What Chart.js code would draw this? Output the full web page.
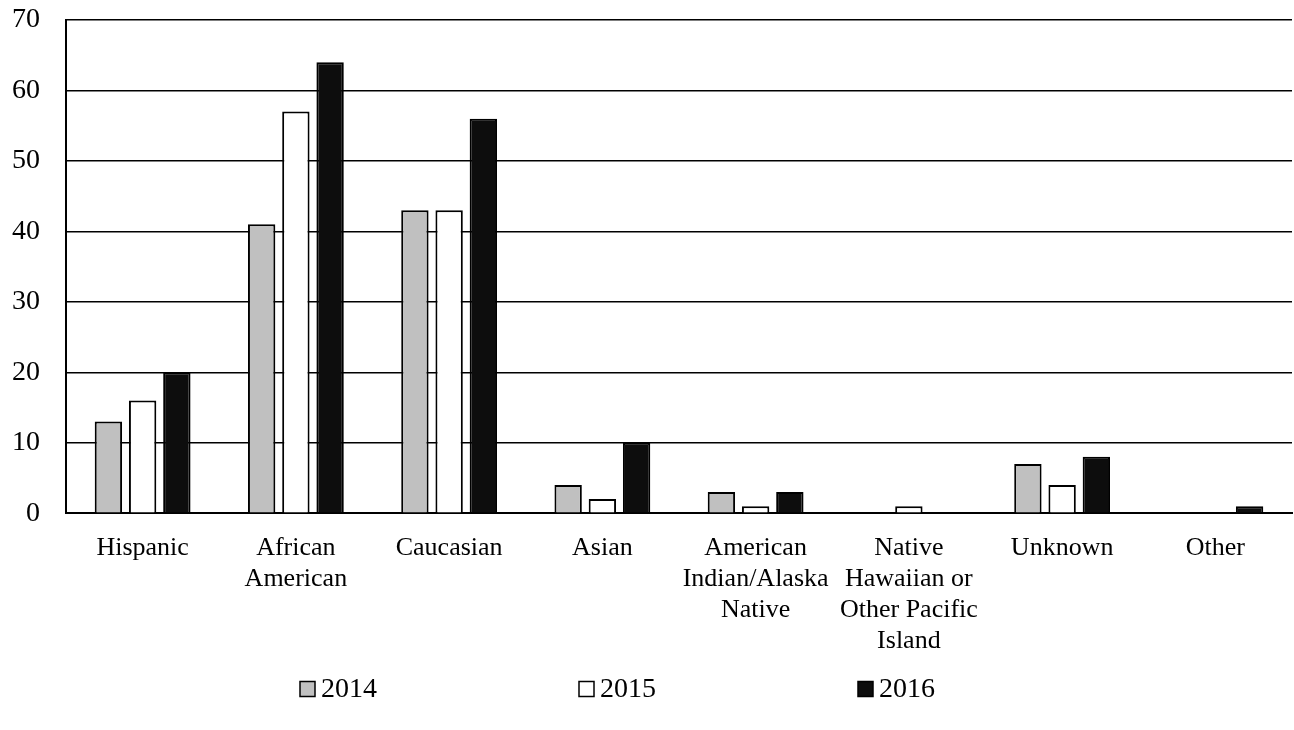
<!DOCTYPE html>
<html>
<head>
<meta charset="utf-8">
<script src="https://cdn.jsdelivr.net/npm/chart.js@4/dist/chart.umd.min.js"></script>
<style>
  html, body { margin: 0; padding: 0; background: #fff; }
  #wrap { width: 1294px; height: 730px; position: relative; }
</style>
</head>
<body>
<div id="wrap"><canvas id="chart"></canvas></div>
<script>
// ─── DATA ────────────────────────────────────────────────
const categories = [
  'Hispanic',
  ['African', 'American'],
  'Caucasian',
  'Asian',
  ['American', 'Indian/Alaska', 'Native'],
  ['Native', 'Hawaiian or', 'Other Pacific', 'Island'],
  'Unknown',
  'Other'
];
const years     = ['2014', '2015', '2016'];
const vals2014  = [13, 41, 43, 4, 3, 0, 7, 0];
const vals2015  = [16, 57, 43, 2, 1, 1, 4, 0];
const vals2016  = [20, 64, 56, 10, 3, 0, 8, 1];
const yTicks    = [0, 10, 20, 30, 40, 50, 60, 70];

const FONT = "'Liberation Serif', 'Times New Roman', serif";
Chart.defaults.font.family = FONT;
Chart.defaults.color = '#000';

// ─── LEGEND (spread out along the bottom) ────────────────
const spreadLegend = {
  id: 'spreadLegend',
  afterDraw(chart) {
    const ctx = chart.ctx;
    const sets = chart.data.datasets;
    const spacing = 279, box = 15, y = 689;
    const centre = 619;
    ctx.save();
    ctx.font = '28px ' + FONT;
    ctx.textBaseline = 'middle';
    ctx.textAlign = 'left';
    sets.forEach((ds, i) => {
      const x = centre + (i - (sets.length - 1) / 2) * spacing - 40;
      ctx.fillStyle = ds.backgroundColor;
      ctx.fillRect(x, y - box / 2, box, box);
      ctx.lineWidth = 1.5;
      ctx.strokeStyle = '#000';
      ctx.strokeRect(x, y - box / 2, box, box);
      ctx.fillStyle = '#000';
      ctx.fillText(ds.label, x + box + 6, y + 1);
    });
    ctx.restore();
  }
};

// ─── BAR CHART ───────────────────────────────────────────
const fills = ['#c0c0c0', '#ffffff', '#0d0d0d'];
const series = [vals2014, vals2015, vals2016];

new Chart(document.getElementById('chart'), {
  type: 'bar',
  data: {
    labels: categories,
    datasets: series.map((data, i) => ({
      label: years[i],
      data,
      backgroundColor: fills[i],
      borderColor: '#000',
      borderWidth: 2,
      borderSkipped: 'bottom',
      categoryPercentage: 0.67,
      barPercentage: 0.8
    }))
  },
  options: {
    responsive: true,
    maintainAspectRatio: false,
    animation: false,
    devicePixelRatio: 1,
    layout: { padding: { left: -14, right: 2, top: 20, bottom: 62 } },
    plugins: {
      legend: { display: false },
      tooltip: { enabled: false }
    },
    scales: {
      x: {
        grid: { display: false },
        border: { display: true, color: '#000', width: 2 },
        ticks: { font: { size: 26 }, color: '#000', padding: 11, maxRotation: 0, autoSkip: false }
      },
      y: {
        min: 0,
        max: 70,
        afterBuildTicks: axis => { axis.ticks = yTicks.map(v => ({ value: v })); },
        // top label may overhang; let the outer padding decide the top edge
        afterFit: axis => { axis.paddingTop = 0; },
        grid: { color: '#000', lineWidth: 1.5, drawTicks: false },
        border: { display: true, color: '#000', width: 2 },
        ticks: { font: { size: 28 }, color: '#000', padding: 26 }
      }
    }
  },
  plugins: [spreadLegend]
});
</script>
</body>
</html>
